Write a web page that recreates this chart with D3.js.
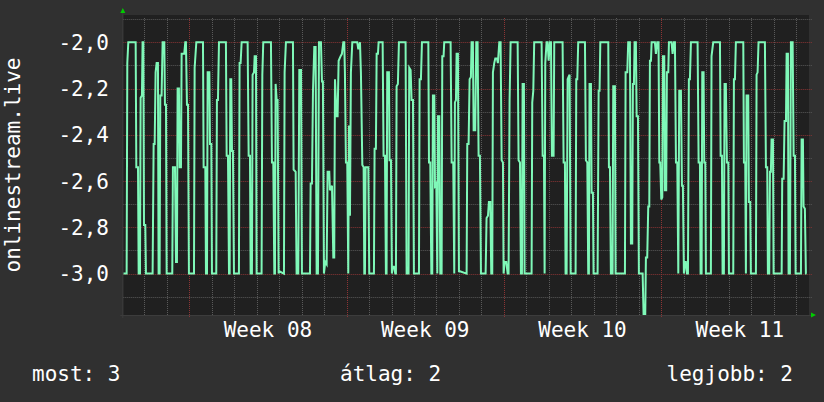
<!DOCTYPE html>
<html><head><meta charset="utf-8">
<script src="https://cdn.jsdelivr.net/npm/d3@7"></script>
<style>html,body{margin:0;padding:0;background:#303030;}svg{display:block;}</style>
</head><body>
<script>
// ---- data (hours since start, value) ----
const series = [[0,-3],[3.56,-3],[4.27,-2.09],[5.34,-2],[13.2,-2],[13.9,-2.54],[15.7,-2.54],[16.4,-3],[17.8,-3],[18.5,-2.24],[19.9,-2.23],[20.6,-2],[21.4,-2],[22.1,-2.79],[23.5,-2.79],[24.2,-3],[31.3,-3],[32.4,-2.44],[33.5,-2.44],[34.5,-2.13],[35.6,-2.09],[37.0,-2.09],[37.7,-3],[38.8,-3],[39.5,-2.23],[40.9,-2.23],[42.0,-2],[43.8,-2],[44.5,-2.27],[45.6,-2.27],[46.3,-3],[52.3,-3],[53.0,-2.54],[55.2,-2.54],[56.3,-2.95],[57.3,-2.95],[58.0,-2.2],[59.4,-2.2],[60.2,-2.54],[61.6,-2.54],[62.3,-2.05],[65.1,-2.05],[66.2,-2],[66.9,-2],[68.0,-2.27],[69.1,-2.27],[70.1,-3],[75.5,-3],[76.2,-2.11],[78.0,-2],[85.1,-2],[85.8,-2.54],[87.6,-2.54],[88.3,-3],[89.4,-3],[90.1,-2.13],[91.9,-2.13],[92.6,-2.44],[94.0,-2.44],[94.7,-3],[99.3,-3],[100.0,-2.25],[101.1,-2.25],[102.2,-2],[109.6,-2],[110.4,-2.49],[111.8,-2.49],[112.9,-3],[113.6,-3],[114.3,-2.16],[115.3,-2.16],[116.1,-2.47],[117.1,-2.47],[118.2,-3],[123.5,-3],[124.2,-2.09],[125.3,-2.09],[126.4,-2],[132.8,-2],[133.9,-2.49],[135.3,-2.49],[136.0,-3],[137.4,-3],[138.1,-2.14],[139.6,-2.13],[140.3,-2.06],[141.7,-2.06],[142.4,-3],[147.7,-3],[148.5,-2.14],[149.5,-2],[157.7,-2],[158.8,-2.52],[160.2,-2.52],[161.3,-3],[162.0,-3],[162.7,-2.18],[163.8,-2.25],[164.8,-2.25],[165.9,-3],[166.6,-2.99],[171.6,-3],[172.3,-2.13],[173.7,-2],[181.2,-2],[181.9,-2.55],[184.1,-2.56],[185.1,-3],[186.9,-3],[188.0,-2.12],[189.8,-2.12],[190.8,-3],[199.4,-3],[200.1,-2.61],[201.5,-2.61],[202.6,-2.21],[204.0,-2.02],[205.4,-2.02],[206.5,-3],[207.9,-3],[209.0,-2],[211.1,-2],[212.2,-2.17],[213.2,-2.17],[214.3,-3],[215.7,-2.95],[217.2,-2.96],[218.2,-2.56],[220.0,-2.56],[220.7,-2.64],[222.9,-2.62],[224.3,-2.93],[225.3,-2.93],[226.1,-2.16],[227.8,-2.32],[228.9,-2.32],[230.0,-2.08],[232.1,-2.06],[233.5,-2.05],[235.0,-2],[236.0,-2],[236.7,-2.13],[237.8,-2.52],[239.2,-2.52],[240.3,-3],[241.0,-2.36],[242.1,-2.75],[243.1,-2.13],[244.6,-2],[249.9,-2],[251.0,-2.03],[252.8,-2],[253.8,-2.13],[255.3,-2.53],[256.7,-2.54],[257.4,-3],[258.1,-3],[258.8,-2.54],[261.7,-2.54],[262.7,-3],
[267.7,-3],[268.4,-2.46],[269.8,-2.46],[270.6,-2.05],[272.0,-2.05],[272.7,-2],[277.0,-2],[278.0,-2.49],[279.5,-2.49],[280.5,-3],[281.2,-3],[281.9,-2.13],[283.7,-2.13],[284.4,-2.51],[285.9,-2.51],[286.9,-3],[287.6,-2.97],[289.1,-2.97],[290.5,-3],[291.2,-3],[291.9,-2.19],[293.3,-2.18],[294.4,-2],[301.5,-2],[302.6,-3],[304.7,-3],[305.4,-2.11],[306.9,-2.12],[307.9,-2.25],[309.4,-2.25],[310.4,-3],[315.8,-3],[316.5,-2.16],[317.9,-2.16],[319.0,-2],[325.8,-2],[326.5,-2.52],[327.9,-2.52],[329.0,-3],[330.0,-3],[330.7,-2.23],[332.2,-2.23],[332.9,-2.62],[334.3,-2.61],[335.4,-3],[336.1,-2.32],[337.5,-2.32],[338.6,-3],[340.0,-3],[340.7,-2.06],[342.1,-2.06],[342.8,-2],[349.6,-2],[350.7,-2.52],[352.4,-2.52],[353.5,-3],[354.2,-2.26],[355.3,-2.25],[356.0,-2.05],[357.4,-2.05],[358.5,-2.99],[359.6,-2.99],[366.7,-3],[367.4,-2.44],[368.8,-2.44],[369.9,-2.16],[371.3,-2.15],[372.0,-2],[373.4,-2],[374.2,-2.38],[375.9,-2.38],[377.0,-2],[378.4,-2],[379.5,-2.49],[380.9,-2.49],[382.0,-3],[387.0,-3],[388.0,-2.76],[389.5,-2.75],[390.5,-2.69],[392.0,-2.69],[393.0,-3],[394.1,-3],[394.8,-2.13],[396.2,-2.09],[397.3,-2.07],[399.1,-2.07],[400.1,-2.09],[401.6,-2],[403.0,-2],[404.1,-2.51],[405.5,-2.52],[406.2,-3],[407.3,-2.95],[409.1,-2.95],[410.5,-3],[411.5,-3],[412.6,-2.25],[413.7,-2],[421.2,-2],[422.2,-2.51],[423.7,-2.52],[424.7,-3],[425.8,-3],[426.5,-2.18],[427.9,-2.18],[428.6,-3],[436.1,-3],[436.8,-2.26],[437.9,-2.21],[438.9,-2],[446.8,-2],[447.9,-2.49],[449.3,-2.49],[450.0,-3],[450.7,-2.09],[452.1,-2],[453.2,-2],[454.3,-2.08],[455.7,-2],[456.8,-2],[457.8,-2.49],[459.6,-2.49],[460.3,-2],[469.2,-2],[470.3,-2.52],[471.7,-2.52],[472.4,-3],[473.5,-3],[474.6,-2.16],[475.6,-2.15],[476.7,-2.14],[477.8,-3],[483.1,-3],[483.8,-2.16],[484.9,-2.16],[485.9,-2],[493.1,-2],[494.1,-2.51],[495.6,-2.52],[496.6,-3],[497.3,-3],[498.0,-2.18],[499.5,-2.18],[500.2,-2.65],[501.6,-2.65],[502.3,-3],[506.6,-3],[507.7,-2.21],[508.7,-2.21],[509.5,-2],
[518.0,-2],[518.7,-2.54],[519.8,-2.54],[520.8,-3],[522.6,-3],[523.3,-2.19],[525.1,-2.19],[525.8,-3],[535.8,-3],[536.5,-2.13],[538.3,-2.13],[539.3,-2],[541.1,-2],[542.2,-2.87],[543.6,-2.87],[544.3,-2.18],[545.4,-2.18],[546.1,-2],[547.5,-2],[548.3,-2.32],[549.7,-2.32],[550.7,-3],[554.7,-3],[555.7,-3.175],[557.5,-3.175],[558.2,-2.93],[559.6,-2.93],[560.7,-2.71],[561.8,-2.71],[562.5,-2.08],[563.6,-2.08],[564.3,-2],[567.8,-2],[568.9,-2.05],[570.3,-2],[571.7,-2],[572.5,-2.52],[573.5,-2.52],[574.6,-2.68],[575.7,-2.67],[576.4,-2.06],[577.8,-2.06],[578.5,-2.64],[579.9,-2.64],[580.6,-2.13],[582.1,-2.13],[582.8,-2],[585.6,-2],[586.7,-2.05],[588.1,-2],[589.2,-2],[590.3,-2.52],[591.7,-2.52],[592.8,-3],[593.8,-2.21],[595.6,-2.21],[596.7,-2.62],[597.7,-2.62],[598.8,-3],[599.9,-2.95],[600.9,-2.95],[602.0,-3],[603.1,-3],[604.1,-2.16],[605.2,-2.16],[606.3,-2],[613.4,-2],[614.5,-2.52],[615.9,-2.52],[616.6,-3],[617.7,-3],[618.4,-2.13],[619.8,-2.13],[620.5,-2.52],[621.6,-2.52],[622.3,-3],[627.6,-3],[628.3,-2.06],[630.1,-2],[637.3,-2],[638.0,-2.49],[639.4,-2.49],[640.1,-3],[641.5,-3],[642.2,-2.18],[643.6,-2.18],[644.7,-2.52],[646.2,-2.52],[646.9,-3],[651.5,-3],[652.2,-2.16],[653.3,-2.16],[654.3,-2],[662.2,-2],[662.9,-2.52],[664.3,-2.52],[665.0,-3],[665.7,-2.23],[667.5,-2.23],[668.2,-2.69],[669.6,-2.69],[670.3,-3],[675.7,-3],[676.4,-2.14],[677.5,-2.13],[678.5,-2],[685.3,-2],[686.4,-2.54],[687.8,-2.54],[688.5,-3],[689.9,-3],[690.7,-2.56],[691.7,-2.56],[692.4,-2.42],[693.9,-2.42],[694.6,-3],[703.2,-3],[703.8,-2.59],[705.3,-2.59],[706.3,-2.34],[707.8,-2.34],[708.5,-2.05],[709.9,-2.05],[710.6,-3],[712.0,-3],[713.1,-2],[714.9,-2],[716.0,-2.49],[717.4,-2.49],[718.1,-3],[723.8,-3],[724.5,-2.42],[725.9,-2.42],[726.6,-2.71],[728.0,-2.72],[729.1,-3],[729.8,-3]];

const yMajorTicks = [-2.0, -2.2, -2.4, -2.6, -2.8, -3.0];
const yMinorTicks = [-1.9, -2.1, -2.3, -2.5, -2.7, -2.9, -3.1];
const weekLabels = ["Week 08", "Week 09", "Week 10", "Week 11"];
const legendItems = ["most: 3", "átlag: 2", "legjobb: 2"];
const yTitle = "onlinestream.live";
const startTime = new Date(2024, 1, 16, 1, 30);
const spanHours = 732.4;
const yDomain = [-3.179, -1.882];

// ---- layout ----
const W = 824, H = 402;
const L = 123.3, R = 809, T = 15, B = 315;
const FONT = "'DejaVu Sans Mono', monospace";
const endTime = new Date(+startTime + spanHours * 3600e3);
const toDate = h => new Date(+startTime + h * 3600e3);

const x = d3.scaleTime().domain([startTime, endTime]).range([L, R]);
const y = d3.scaleLinear().domain(yDomain).range([B, T]);

const svg = d3.select("body").append("svg").attr("width", W).attr("height", H);
svg.append("rect").attr("width", W).attr("height", H).attr("fill", "#303030");
svg.append("rect").attr("x", L).attr("y", T).attr("width", R - L).attr("height", B - T).attr("fill", "#202020");

const grid = svg.append("g");
const minorC = "#5a5a5a", majorC = "#8c3535";
const px = v => Math.round(v) + 0.5;
// horizontal grid
yMinorTicks.forEach(v => grid.append("line").attr("x1", L).attr("x2", R + 3).attr("y1", px(y(v))).attr("y2", px(y(v)))
  .attr("stroke", minorC).attr("stroke-dasharray", "1,1"));
yMajorTicks.forEach(v => grid.append("line").attr("x1", L).attr("x2", R + 3).attr("y1", px(y(v))).attr("y2", px(y(v)))
  .attr("stroke", majorC).attr("stroke-dasharray", "1,1"));
// vertical grid
const days = d3.timeDay.range(startTime, endTime);
const mondays = d3.timeMonday.range(startTime, endTime);
days.filter(d => d.getDay() !== 1).forEach(d => grid.append("line").attr("x1", px(x(d))).attr("x2", px(x(d)))
  .attr("y1", T + 3).attr("y2", B).attr("stroke", minorC).attr("stroke-dasharray", "1,1"));
mondays.forEach(d => grid.append("line").attr("x1", px(x(d))).attr("x2", px(x(d)))
  .attr("y1", T + 3).attr("y2", B + 3).attr("stroke", majorC).attr("stroke-dasharray", "1,1"));

// axes lines
svg.append("line").attr("x1", L - 0.5).attr("x2", L - 0.5).attr("y1", T - 3).attr("y2", B + 3).attr("stroke", "#3c3c3c");
svg.append("line").attr("x1", L - 3).attr("x2", R + 3).attr("y1", B + 0.5).attr("y2", B + 0.5).attr("stroke", "#3c3c3c");
// arrows
svg.append("path").attr("d", `M${L - 3},${T - 2} L${L + 2},${T - 2} L${L - 0.5},${T - 7} Z`).attr("fill", "#00cc00");
svg.append("path").attr("d", `M${R + 2},${B - 2.5} L${R + 2},${B + 2.5} L${R + 7},${B} Z`).attr("fill", "#00cc00");

// data line
svg.append("clipPath").attr("id", "clip").append("rect").attr("x", L).attr("y", T).attr("width", R - L).attr("height", B - T);
const line = d3.line().x(d => x(toDate(d[0]))).y(d => y(d[1]));
svg.append("path").datum(series).attr("d", line).attr("clip-path", "url(#clip)")
  .attr("fill", "none").attr("stroke", "#7ff8b8").attr("stroke-width", 2).attr("stroke-linejoin", "miter");

// y labels
const fmt = v => v.toFixed(1).replace(".", ",");
yMajorTicks.forEach(v => svg.append("text").attr("x", 109).attr("y", y(v)).attr("dy", "0.36em")
  .attr("text-anchor", "end").attr("fill", "#ffffff").attr("font-family", FONT).attr("font-size", 21).text(fmt(v)));
// x labels (centred mid-week)
mondays.forEach((d, i) => {
  if (i >= weekLabels.length) return;
  const mid = new Date(+d + 3.5 * 86400e3);
  svg.append("text").attr("x", x(mid)).attr("y", 337).attr("text-anchor", "middle")
    .attr("fill", "#ffffff").attr("font-family", FONT).attr("font-size", 21).text(weekLabels[i]);
});
// y title
svg.append("text").attr("transform", `translate(20,${(T + B) / 2}) rotate(-90)`).attr("text-anchor", "middle")
  .attr("fill", "#ffffff").attr("font-family", FONT).attr("font-size", 21).text(yTitle);
// legend
const legendPos = [[32, "start"], [340, "start"], [793, "end"]];
legendItems.forEach((t, i) => svg.append("text").attr("x", legendPos[i][0]).attr("y", 381).attr("text-anchor", legendPos[i][1])
  .attr("fill", "#ffffff").attr("font-family", FONT).attr("font-size", 21).text(t));
</script>
</body></html>
